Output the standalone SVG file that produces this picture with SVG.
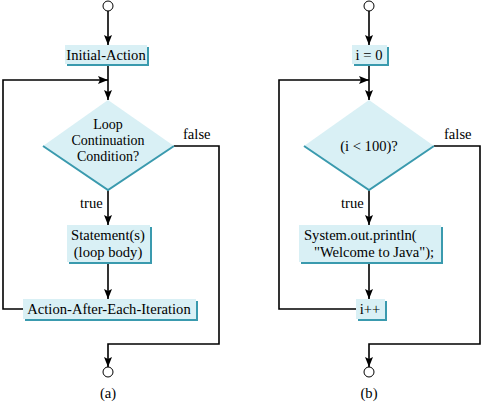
<svg xmlns="http://www.w3.org/2000/svg" width="482" height="402" viewBox="0 0 482 402" font-family="'Liberation Serif', 'DejaVu Serif', serif">
<style>
text{font-family:'Liberation Serif','DejaVu Serif',serif;font-size:14.6px;fill:#000}
.m{text-anchor:middle}
.s{font-size:14px}
.sh{fill:#3a9aae}
.bx{fill:#d9f0f5}
.dm{fill:#d9f0f5;stroke:none}
.de{fill:none;stroke:#3a9aae;stroke-width:2}
.c{fill:none;stroke:#000;stroke-width:1.6}
.t{fill:#fff;stroke:#000;stroke-width:1}
</style>
<defs>
<marker id="ar" viewBox="0 0 10 8" refX="10" refY="4" markerWidth="10" markerHeight="8" markerUnits="userSpaceOnUse" orient="auto">
<path d="M0,0 L10,4 L0,8 L2,4 Z" fill="#000"/>
</marker>
</defs>
<rect width="482" height="402" fill="#fff"/>
<g id="connectors">
<line class="c" x1="108" y1="11" x2="108" y2="45" marker-end="url(#ar)"/>
<line class="c" x1="108" y1="66" x2="108" y2="100" marker-end="url(#ar)"/>
<polyline class="c" points="23,309 3,309 3,80 108,80" marker-end="url(#ar)"/>
<line class="c" x1="108" y1="190" x2="108" y2="225" marker-end="url(#ar)"/>
<line class="c" x1="108" y1="264" x2="108" y2="299" marker-end="url(#ar)"/>
<polyline class="c" points="174,146 219,146 219,344 108,344 108,367" marker-end="url(#ar)"/>
<line class="c" x1="369" y1="11" x2="369" y2="45" marker-end="url(#ar)"/>
<line class="c" x1="369" y1="66" x2="369" y2="100" marker-end="url(#ar)"/>
<polyline class="c" points="356,309 279,309 279,80 369,80" marker-end="url(#ar)"/>
<line class="c" x1="369" y1="190" x2="369" y2="225" marker-end="url(#ar)"/>
<line class="c" x1="369" y1="264" x2="369" y2="299" marker-end="url(#ar)"/>
<polyline class="c" points="434,146 480,146 480,344 369,344 369,367" marker-end="url(#ar)"/>
<text x="80" y="208">true</text>
<text x="183" y="139">false</text>
<text x="341" y="208">true</text>
<text x="444" y="139">false</text>
</g>
<g id="startA"><circle class="t" cx="108" cy="6" r="5"/></g>
<g id="initA"><rect class="sh" x="67" y="47" width="82" height="19"/><rect class="bx" x="65" y="45" width="82" height="19"/><text class="m" x="106" y="60">Initial-Action</text></g>
<g id="condA"><polygon class="dm" points="108,100 174,146 108,190 43,146"/><polyline class="de" points="43,146 108,190 174,146"/>
<text class="m s" x="108" y="129">Loop</text><text class="m s" x="108" y="145">Continuation</text><text class="m s" x="108" y="161">Condition?</text></g>
<g id="bodyA"><rect class="sh" x="69" y="227" width="83" height="37"/><rect class="bx" x="67" y="225" width="83" height="37"/><text class="m" x="108" y="240">Statement(s)</text><text class="m" x="108" y="257">(loop body)</text></g>
<g id="afterA"><rect class="sh" x="25" y="301" width="173" height="20"/><rect class="bx" x="23" y="299" width="173" height="20"/><text class="m" x="109" y="314">Action-After-Each-Iteration</text></g>
<g id="endA"><circle class="t" cx="108" cy="372" r="5"/></g>
<text class="m" x="108" y="398">(a)</text>
<g id="startB"><circle class="t" cx="369" cy="6" r="5"/></g>
<g id="initB"><rect class="sh" x="354" y="47" width="35" height="19"/><rect class="bx" x="352" y="45" width="35" height="19"/><text class="m" x="369" y="60">i = 0</text></g>
<g id="condB"><polygon class="dm" points="369,100 434,146 369,190 304,146"/><polyline class="de" points="304,146 369,190 434,146"/>
<text class="m" x="369" y="151">(i &lt; 100)?</text></g>
<g id="bodyB"><rect class="sh" x="301" y="227" width="142" height="37"/><rect class="bx" x="299" y="225" width="142" height="37"/><text x="304" y="240">System.out.println(</text><text x="314" y="257">"Welcome to Java");</text></g>
<g id="incB"><rect class="sh" x="358" y="301" width="29" height="20"/><rect class="bx" x="356" y="299" width="29" height="20"/><text class="m" x="370" y="314">i++</text></g>
<g id="endB"><circle class="t" cx="369" cy="372" r="5"/></g>
<text class="m" x="369" y="398">(b)</text>
</svg>
